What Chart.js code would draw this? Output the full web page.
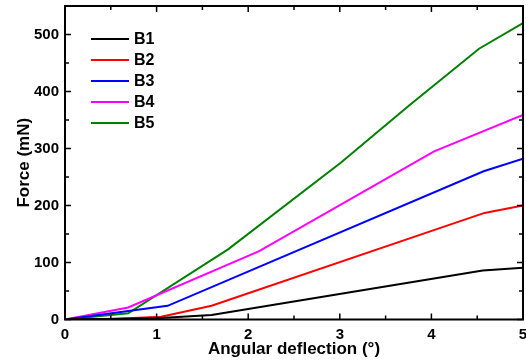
<!DOCTYPE html>
<html>
<head>
<meta charset="utf-8">
<script src="https://cdn.jsdelivr.net/npm/chart.js@4/dist/chart.umd.min.js"></script>
<style>
  html, body { margin: 0; padding: 0; background: #fff; }
  #wrap { width: 526px; height: 362px; }
</style>
</head>
<body>
<div id="wrap"><canvas id="forceChart" width="526" height="362"></canvas></div>
<script>
// data
const seriesNames = ["B1", "B2", "B3", "B4", "B5"];
const seriesColors = ["#000000", "#ff0000", "#0000ff", "#ff00ff", "#008000"];

const b1X = [0, 1.0, 1.6, 4.56, 5];
const b1Y = [0, 2, 8, 86, 91];
const b2X = [0, 0.5, 1.05, 1.6, 4.58, 5];
const b2Y = [0, 1, 5, 24, 187, 200];
const b3X = [0, 0.69, 1.12, 4.57, 5];
const b3Y = [0, 15, 24, 260, 282];
const b4X = [0, 0.69, 2.12, 4.03, 5];
const b4Y = [0, 21, 120, 295, 359];
const b5X = [0, 0.69, 1.78, 3.01, 3.76, 4.52, 5];
const b5Y = [0, 11, 123, 275, 376, 475, 520];

const xTicks = [0, 1, 2, 3, 4, 5];
const yTicks = [0, 100, 200, 300, 400, 500];

const FONT = "'Liberation Sans', Arial, sans-serif";

function toPoints(xs, ys) {
    return xs.map((v, i) => ({ x: v, y: ys[i] }));
}

const allX = [b1X, b2X, b3X, b4X, b5X];
const allY = [b1Y, b2Y, b3Y, b4Y, b5Y];

// frame, inward ticks (with minor ticks) and the legend inside the plot
const frameAndLegend = {
    id: "frameAndLegend",
    afterDatasetsDraw(chart) {
        const { ctx, chartArea: a, scales: { x, y } } = chart;
        ctx.save();
        ctx.strokeStyle = "#000";
        ctx.lineWidth = 1.5;
        for (let i = 0; i < xTicks.length; i++) {
            const px = x.getPixelForValue(xTicks[i]);
            ctx.beginPath();
            ctx.moveTo(px, a.bottom); ctx.lineTo(px, a.bottom - 6);
            ctx.moveTo(px, a.top); ctx.lineTo(px, a.top + 6);
            ctx.stroke();
            if (i < xTicks.length - 1) {
                const mx = x.getPixelForValue((xTicks[i] + xTicks[i + 1]) / 2);
                ctx.beginPath();
                ctx.moveTo(mx, a.bottom); ctx.lineTo(mx, a.bottom - 4);
                ctx.moveTo(mx, a.top); ctx.lineTo(mx, a.top + 4);
                ctx.stroke();
            }
        }
        for (let i = 0; i < yTicks.length; i++) {
            const py = y.getPixelForValue(yTicks[i]);
            ctx.beginPath();
            ctx.moveTo(a.left, py); ctx.lineTo(a.left + 6, py);
            ctx.moveTo(a.right, py); ctx.lineTo(a.right - 6, py);
            ctx.stroke();
            const my = y.getPixelForValue(yTicks[i] + 50);
            if (my > a.top) {
                ctx.beginPath();
                ctx.moveTo(a.left, my); ctx.lineTo(a.left + 4, my);
                ctx.moveTo(a.right, my); ctx.lineTo(a.right - 4, my);
                ctx.stroke();
            }
        }
        ctx.lineWidth = 2;
        ctx.strokeRect(a.left, a.top, a.right - a.left, a.bottom - a.top);

        // legend
        ctx.font = "bold 16px " + FONT;
        ctx.textBaseline = "middle";
        ctx.textAlign = "left";
        chart.data.datasets.forEach((ds, i) => {
            const ly = 39 + i * 21;
            ctx.strokeStyle = ds.borderColor;
            ctx.lineWidth = 2;
            ctx.beginPath();
            ctx.moveTo(91, ly); ctx.lineTo(129, ly);
            ctx.stroke();
            ctx.fillStyle = "#000";
            ctx.fillText(ds.label, 134, ly + 1);
        });
        ctx.restore();
    }
};

const ctx = document.getElementById("forceChart").getContext("2d");
const forceChart = new Chart(ctx, {
    type: "line",
    data: {
        datasets: seriesNames.map((name, i) => ({
            label: name,
            data: toPoints(allX[i], allY[i]),
            borderColor: seriesColors[i],
            backgroundColor: seriesColors[i],
            borderWidth: 2,
            pointRadius: 0,
            tension: 0,
            fill: false
        }))
    },
    options: {
        responsive: false,
        animation: false,
        devicePixelRatio: 1,
        layout: { padding: { left: 14, right: 3, top: 6, bottom: 0 } },
        plugins: {
            legend: { display: false },
            tooltip: { enabled: false }
        },
        scales: {
            x: {
                type: "linear",
                min: 0,
                max: 5,
                grid: { display: false, drawTicks: false },
                border: { display: false },
                ticks: {
                    stepSize: 1,
                    padding: 6,
                    color: "#000",
                    font: { family: FONT, size: 15, weight: "bold" }
                },
                title: {
                    display: true,
                    text: "Angular deflection (°)",
                    color: "#000",
                    padding: { top: 0, bottom: 2 },
                    font: { family: FONT, size: 17, weight: "bold" }
                },
                afterFit(scale) {
                    scale.height = 42.5;
                    scale.paddingLeft = 0;
                    scale.paddingRight = 0;
                }
            },
            y: {
                min: 0,
                max: 550,
                grid: { display: false, drawTicks: false },
                border: { display: false },
                ticks: {
                    stepSize: 100,
                    includeBounds: false,
                    padding: 6,
                    color: "#000",
                    font: { family: FONT, size: 15, weight: "bold" }
                },
                title: {
                    display: true,
                    text: "Force (mN)",
                    color: "#000",
                    padding: { top: 0, bottom: 4 },
                    font: { family: FONT, size: 17, weight: "bold" }
                },
                afterFit(scale) {
                    scale.width = 51;
                    scale.paddingTop = 0;
                    scale.paddingBottom = 0;
                }
            }
        }
    },
    plugins: [frameAndLegend]
});
</script>
</body>
</html>
